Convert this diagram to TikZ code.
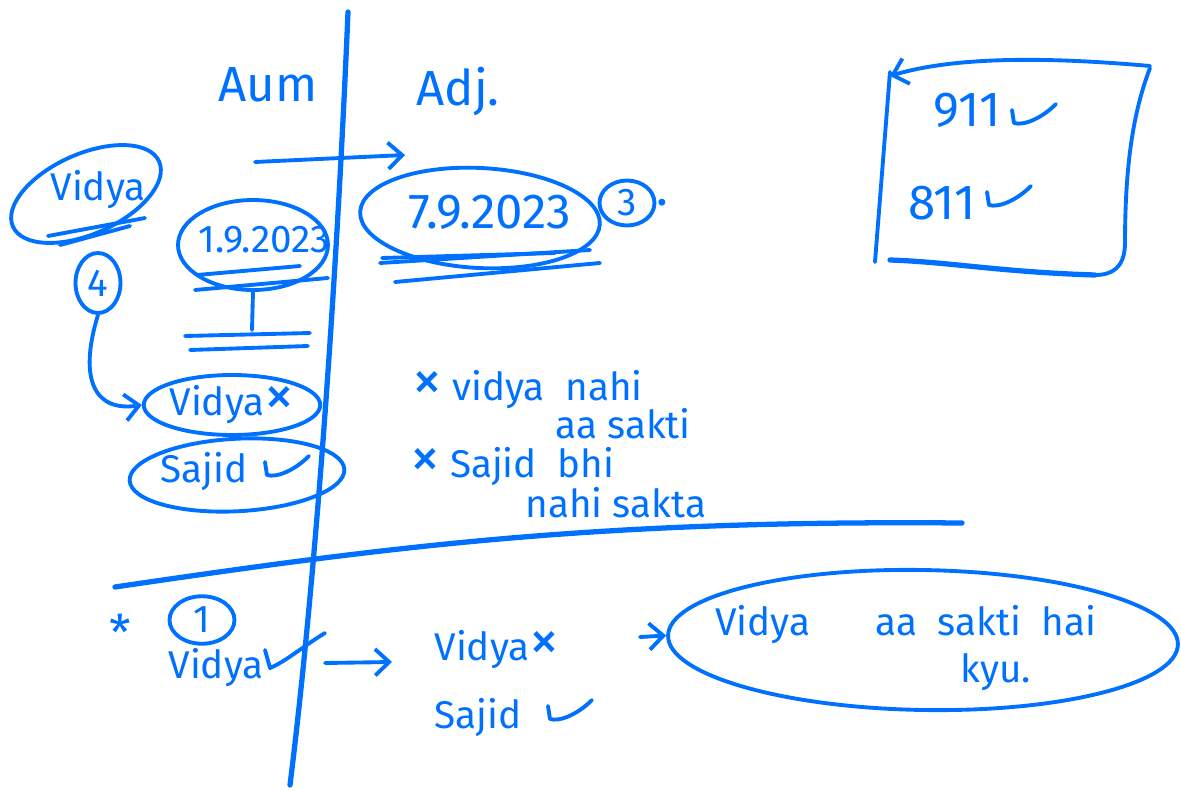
\documentclass[tikz,border=0pt]{standalone}
\usepackage{fontspec}
\setmainfont{Fira Sans}
\usetikzlibrary{shapes.geometric}
\usetikzlibrary{arrows.meta}
\definecolor{ink}{RGB}{0,112,255}

\newcommand{\nomark}{{\fontsize{34}{34}\selectfont ×}}

\tikzset{
  pen/.style={ink, line width=2.2pt, line cap=round, line join=round},
  heavypen/.style={ink, line width=3pt, line cap=round},
  hand/.style={ink, font=\fontsize{22}{25}\selectfont, inner sep=0pt},
  bighand/.style={ink, font=\fontsize{28}{32}\selectfont, inner sep=0pt},
  ring/.style={draw=ink, line width=2.2pt, ellipse, inner sep=0pt},
  arr/.style={pen, -{Straight Barb[length=8pt,width=15pt,line width=2.2pt]}},
  okmark/.pic={\draw[pen] (0,0) -- (2,13) .. controls (12,16) and (30,8) .. (44,-6);},
}

\begin{document}
\begin{tikzpicture}[x=0.02cm, y=-0.02cm]
\useasboundingbox (0,0) rectangle (1181,791);

%%%%%% the two axes %%%%%%
{
\draw[heavypen] (348,12) .. controls (338,250) and (318,560) .. (290,785);
\draw[heavypen] (115,587) .. controls (400,545) and (600,520) .. (962,523);
}

%%%%%% headings %%%%%%
{
\node[bighand] (aum) at (268,85) {Aum};
\node[bighand] (adj) at (458,92) {Adj.};
\coordinate (toptail) at (255,162);
\coordinate (tophead) at (405,155);
\draw[arr] (toptail) -- (tophead);
}

%%%%%% left column %%%%%%
{
\draw[pen, rotate around={24:(86,194)}] (86,194) ellipse (80 and 40);
\node[hand] (vidyaAt) at (98,190) {Vidya};
\draw[pen] (48,236) -- (145,218);
\draw[pen] (60,245) -- (130,226);

\node[ring, hand, minimum width=0.9cm, minimum height=1.2cm] (four) at (98,283) {4};

\node[ring, minimum width=3cm, minimum height=1.8cm] (dateA) at (253,245) {};
\node[hand] (dateAt) at (264,240) {1.9.2023};
\draw[pen] (197,275) -- (300,266);
\draw[pen] (195,290) -- (328,278);

\coordinate (ground) at (252,330);
\draw[pen] (dateA.south) -- (ground);
\draw[pen] (185,336) -- (310,333);
\draw[pen] (190,350) -- (308,346);

\node[ring, hand, minimum width=3.05cm, minimum height=1.2cm] (vidyaB) at (232,405) {Vidya\nomark};
\draw[arr] (four.south) .. controls (78,380) and (95,412) .. (vidyaB.west);

\node[ring, minimum width=4.3cm, minimum height=1.45cm, rotate=3] (sajidA) at (237,475) {};
\node[hand] (sajidAt) at (204,472) {Sajid};
\pic at (265,462) {okmark};
}

%%%%%% right column %%%%%%
{
\node[ring, minimum width=4.8cm, minimum height=2cm, rotate=-3] (dateB) at (480,218) {};
\node[bighand] (dateBt) at (490,212) {7.9.2023};
\draw[pen] (382,258) -- (555,253);
\draw[pen] (380,263) -- (590,250);
\draw[pen] (395,282) -- (600,263);

\node[ring, hand, minimum width=1.1cm, minimum height=0.9cm] (three) at (627,203) {3};
\node[bighand, anchor=west] (threedot) at (three.east) {.};

\node[hand, anchor=west] (noteA) at (412,390) {\nomark\ vidya\ \ nahi};
\node[hand, anchor=west] (noteB) at (555,424) {aa sakti};
\node[hand, anchor=west] (noteC) at (410,467) {\nomark\ Sajid\ \ bhi};
\node[hand, anchor=west] (noteD) at (525,503) {nahi sakta};
}

%%%%%% the box %%%%%%
{
\draw[pen] (875,262) -- (890,72);
\draw[arr] (1150,66) .. controls (1060,58) and (960,55) .. (890,76);
\draw[pen] (1150,68) .. controls (1130,120) and (1125,180) .. (1125,245)
  .. controls (1124,268) and (1112,275) .. (1095,275);
\draw[heavypen] (1095,275) .. controls (1000,272) and (950,262) .. (890,260);
\node[bighand] (nineA) at (967,110) {911};
\pic at (1012,110) {okmark};
\node[bighand] (eightA) at (942,203) {811};
\pic at (987,192) {okmark};
}

%%%%%% below the line %%%%%%
{
\node[bighand] (star) at (120,632) {*};
\node[ring, hand, minimum width=1.3cm, minimum height=0.95cm] (one) at (202,620) {1};
\node[hand] (vidyaC) at (216,668) {Vidya};
\draw[pen] (265,650) -- (270,668) .. controls (285,662) and (305,645) .. (325,633);

\coordinate (midtail) at (325,663);
\coordinate (midhead) at (392,662);
\draw[arr] (midtail) -- (midhead);

\node[hand] (vidyaD) at (497,650) {Vidya\nomark};
\node[hand] (sajidB) at (478,718) {Sajid};
\pic at (548,706) {okmark};

\node[ring, minimum width=10.2cm, minimum height=2.8cm, rotate=-1] (answer) at (923,640) {};
\node[hand, anchor=west] (answerA) at (715,625) {Vidya\hspace{1.3cm}aa\ \ sakti\ \ hai};
\node[hand, anchor=west] (answerB) at (960,672) {kyu.};
\coordinate (lefttail) at (640,637);
\draw[arr] (lefttail) -- (answer.west);
}

\end{tikzpicture}
\end{document}
